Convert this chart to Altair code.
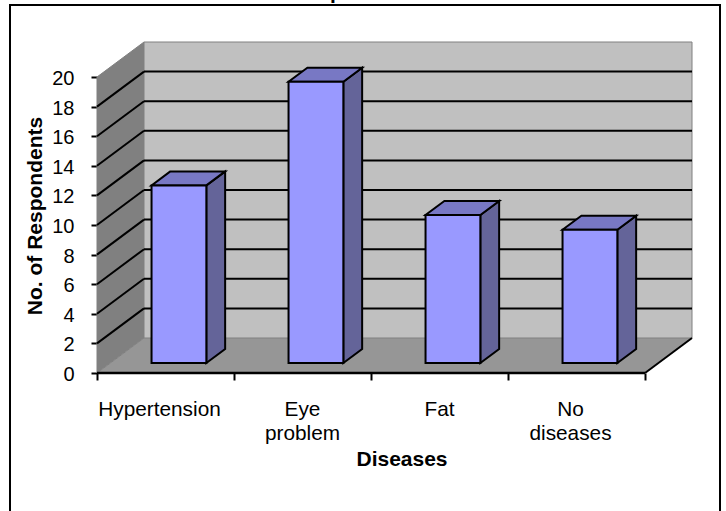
import altair as alt
import pandas as pd

# Values shown by the bars
diseases = ["Hypertension", "Eye problem", "Fat", "No diseases"]
respondents = [12, 19, 10, 9]
axis_labels = ["Hypertension", "Eye\nproblem", "Fat", "No\ndiseases"]
label_nudge = [-6, 0, 0, -6]
y_ticks = list(range(0, 21, 2))
x_ticks = [0, 1, 2, 3, 4]

# Oblique projection: full depth shifts right in category units and up in value units
SHIFT_U = 47 / 137
SHIFT_V = 35 / 14.8
BAR_HALF = 0.2
BAR_D0 = 0.286
BAR_D1 = 0.686

FONT = "Liberation Sans"
U_MAX = 4 + SHIFT_U
V_MAX = 332 / 14.8

x_scale = alt.Scale(domain=[0, U_MAX], nice=False, zero=False)
y_scale = alt.Scale(domain=[0, V_MAX], nice=False, zero=False)

# Every layer carries the same axis definitions so that they merge into one pair
Y_AXIS = alt.Axis(
    values=y_ticks,
    title="No. of Respondents",
    titleFont=FONT,
    titleFontSize=21,
    titleFontWeight="bold",
    titleColor="black",
    titleX=-52,
    titleY=174.5,
    labelFont=FONT,
    labelFontSize=20,
    labelColor="black",
    labelPadding=17,
    labelOffset=1.5,
    tickColor="black",
    tickWidth=2,
    tickSize=6,
    domain=False,
    grid=False,
)
X_AXIS = alt.Axis(
    values=x_ticks,
    labels=False,
    title=None,
    tickColor="black",
    tickWidth=2,
    tickSize=7,
    domain=False,
    grid=False,
)


def enc_x(field="x"):
    return alt.X(f"{field}:Q", scale=x_scale, axis=X_AXIS)


def enc_y(field="y"):
    return alt.Y(f"{field}:Q", scale=y_scale, axis=Y_AXIS)


def px(u, d):
    return u + d * SHIFT_U


def py(v, d):
    return v + d * SHIFT_V


def vface(rows, color, stroke=None, width=0):
    """Face with vertical edges: each row is (x, y, y2)."""
    frame = pd.DataFrame(rows, columns=["x", "y", "y2"])
    opts = dict(color=color, opacity=1, orient="vertical")
    if stroke:
        opts.update(stroke=stroke, strokeWidth=width)
    return alt.Chart(frame).mark_area(**opts).encode(x=enc_x(), y=enc_y(), y2="y2:Q")


def hface(rows, color, stroke=None, width=0):
    """Face with horizontal edges: each row is (y, x, x2)."""
    frame = pd.DataFrame(rows, columns=["y", "x", "x2"])
    opts = dict(color=color, opacity=1, orient="horizontal")
    if stroke:
        opts.update(stroke=stroke, strokeWidth=width)
    return alt.Chart(frame).mark_area(**opts).encode(y=enc_y(), x=enc_x(), x2="x2:Q")


def segment(rows, color, width):
    frame = pd.DataFrame(rows, columns=["x", "y", "x2", "y2"])
    return alt.Chart(frame).mark_rule(color=color, strokeWidth=width).encode(
        x=enc_x(), y=enc_y(), x2="x2:Q", y2="y2:Q"
    )


# Outer border of the chart area
border = alt.Chart(pd.DataFrame({"k": [0]})).mark_rect(
    fill="transparent", stroke="black", strokeWidth=2
).encode(
    x=alt.value(-87), x2=alt.value(623), y=alt.value(-36), y2=alt.value(490)
)

# Title sitting on the upper border
title = alt.Chart(pd.DataFrame({"t": ["Respondents"]})).mark_text(
    font=FONT, fontSize=21, fontWeight="bold", color="black", align="center", baseline="alphabetic"
).encode(x=alt.value(261), y=alt.value(-42), text="t:N")

# Walls and floor
left_wall = vface(
    [(px(0, 0), py(0, 0), py(20, 0)), (px(0, 1), py(0, 1), py(20, 1))], "#808080"
)
back_wall = vface(
    [(px(0, 1), py(0, 1), py(20, 1)), (px(4, 1), py(0, 1), py(20, 1))], "#C0C0C0"
)
floor = hface(
    [(py(0, 0), px(0, 0), px(4, 0)), (py(0, 1), px(0, 1), px(4, 1))], "#969696"
)

# Gridlines across the two walls
grid_ticks = [t for t in y_ticks if 0 < t < 20]
wall_grid = segment(
    [(px(0, 0), py(t, 0), px(0, 1), py(t, 1)) for t in grid_ticks], "black", 2
)
back_grid = segment(
    [(px(0, 1), py(t, 1), px(4, 1), py(t, 1)) for t in grid_ticks], "black", 2
)
wall_edges = segment(
    [
        (px(0, 0), py(20, 0), px(0, 1), py(20, 1)),
        (px(0, 1), py(20, 1), px(4, 1), py(20, 1)),
        (px(4, 1), py(20, 1), px(4, 1), py(0, 1)),
        (px(0, 1), py(20, 1), px(0, 1), py(0, 1)),
        (px(0, 1), py(0, 1), px(4, 1), py(0, 1)),
        (px(0, 0), py(0, 0), px(0, 1), py(0, 1)),
        (px(0, 0), py(0, 0), px(0, 0), py(20, 0)),
    ],
    "#808080",
    1,
)
floor_edge = segment([(px(4, 0), py(0, 0), px(4, 1), py(0, 1))], "black", 2)
baseline = segment([(px(0, 0), py(0, 0), px(4, 0), py(0, 0))], "black", 2.5)

# Boxes: side, top and front of each bar
bars = []
for i, value in enumerate(respondents):
    left, right = i + 0.5 - BAR_HALF, i + 0.5 + BAR_HALF
    bars.append(
        vface(
            [
                (px(right, BAR_D0), py(0, BAR_D0), py(value, BAR_D0)),
                (px(right, BAR_D1), py(0, BAR_D1), py(value, BAR_D1)),
            ],
            "#646499",
            "black",
            2,
        )
    )
    bars.append(
        hface(
            [
                (py(value, BAR_D0), px(left, BAR_D0), px(right, BAR_D0)),
                (py(value, BAR_D1), px(left, BAR_D1), px(right, BAR_D1)),
            ],
            "#7878C4",
            "black",
            2,
        )
    )
    front = pd.DataFrame(
        [dict(x=px(left, BAR_D0), x2=px(right, BAR_D0), y=py(0, BAR_D0), y2=py(value, BAR_D0))]
    )
    bars.append(
        alt.Chart(front).mark_rect(color="#9999FF", stroke="black", strokeWidth=2).encode(
            x=enc_x(), x2="x2:Q", y=enc_y(), y2="y2:Q"
        )
    )

# Category labels below the floor
category_labels = []
for i, (text, nudge) in enumerate(zip(axis_labels, label_nudge)):
    category_labels.append(
        alt.Chart(pd.DataFrame({"x": [i + 0.5], "t": [text]})).mark_text(
            font=FONT,
            fontSize=20.8,
            color="black",
            align="center",
            baseline="alphabetic",
            lineBreak="\n",
            lineHeight=23.7,
            dx=nudge,
        ).encode(x=enc_x(), y=alt.value(375), text="t:N")
    )

x_title = alt.Chart(pd.DataFrame({"t": ["Diseases"]})).mark_text(
    font=FONT, fontSize=21, fontWeight="bold", color="black", align="center", baseline="alphabetic"
).encode(x=alt.value(305), y=alt.value(425), text="t:N")

chart = alt.layer(
    border,
    title,
    left_wall,
    back_wall,
    floor,
    wall_edges,
    wall_grid,
    back_grid,
    floor_edge,
    baseline,
    *bars,
    *category_labels,
    x_title,
).properties(
    width=595,
    height=332,
    padding={"left": 97, "top": 41, "right": 34, "bottom": 138},
    autosize=alt.AutoSizeParams(type="none"),
    background="white",
).configure_view(stroke=None)

chart.save("out.html", embed_options={"renderer": "svg", "actions": False})
